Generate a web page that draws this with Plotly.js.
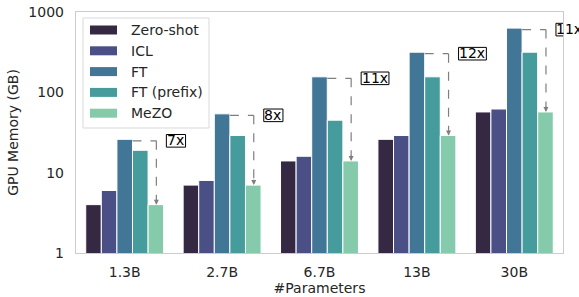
<!DOCTYPE html>
<html>
<head>
<meta charset="utf-8">
<script src="https://cdn.plot.ly/plotly-3.0.1.min.js"></script>
<style>html,body{margin:0;padding:0;background:#fff;}#chart{width:579px;height:297px;}</style>
</head>
<body>
<div id="chart"></div>
<script>
const categories = ["1.3B", "2.7B", "6.7B", "13B", "30B"];
const seriesNames = ["Zero-shot", "ICL", "FT", "FT (prefix)", "MeZO"];
const zeroShot = [4, 7, 14, 26, 57];
const icl = [6, 8, 16, 29, 62];
const ft = [26, 54, 156, 316, 630];
const ftPrefix = [19, 29, 45, 156, 316];
const mezo = [4, 7, 14, 29, 57];
const ratioLabels = ["7x", "8x", "11x", "12x", "11x"];
const yTickVals = [1, 10, 100, 1000];
const yTickText = ["1", "10", "100", "1000"];
const colors = ["#352843", "#4a5086", "#427696", "#469c9c", "#85cbab"];

const seriesValues = [zeroShot, icl, ft, ftPrefix, mezo];
const FONT = "DejaVu Sans, sans-serif";
const TXT = "#262626";

const traces = seriesValues.map((vals, k) => ({
  type: "bar",
  name: seriesNames[k],
  x: categories,
  y: vals,
  marker: { color: colors[k], line: { color: "#ffffff", width: 1 } },
  showlegend: false,
  hoverinfo: "skip"
}));

const W = 487, H = 241, L = 76, T = 12;
const decadePx = H / 3;
const pxToFactor = p => Math.pow(10, p / decadePx);

const shapes = [];
const annotations = [];
const nGroup = seriesNames.length;
const barW = 0.8 / nGroup;
const ftOff = (2 - (nGroup - 1) / 2) * barW;     // FT bar centre offset
const mezoOff = (4 - (nGroup - 1) / 2) * barW;   // MeZO bar centre offset
const gray = "#7f7f7f";

categories.forEach((c, i) => {
  const xr = i + ftOff + barW / 2;
  const xv = i + mezoOff + 0.005;
  const yl = ft[i] / pxToFactor(1.5);
  shapes.push({ type: "line", xref: "x", yref: "y", x0: xr, x1: xv, y0: yl, y1: yl,
    line: { color: gray, width: 1.2, dash: "dash" } });
  shapes.push({ type: "line", xref: "x", yref: "y", x0: xv, x1: xv, y0: yl, y1: mezo[i] * 1.02,
    line: { color: gray, width: 1.2, dash: "dash" } });
  annotations.push({ xref: "x", yref: "y", x: xv, y: Math.log10(mezo[i]), ax: 0, ay: -7,
    text: "", showarrow: true, arrowhead: 2, arrowsize: 1, arrowwidth: 1, arrowcolor: gray, standoff: 0 });
  const w = ratioLabels[i].length * 8.6 + 2;
  shapes.push({ type: "rect", xref: "x", yref: "y", xsizemode: "pixel",
    xanchor: xv, x0: 10, x1: 10 + w,
    y0: yl / pxToFactor(6.3), y1: yl * pxToFactor(6.3),
    line: { color: "#000000", width: 1 }, fillcolor: "#ffffff", layer: "above" });
  annotations.push({ xref: "x", yref: "y", x: xv, y: Math.log10(yl), xanchor: "left", yanchor: "middle",
    xshift: 8.5, yshift: 0.5, showarrow: false, text: ratioLabels[i],
    font: { family: FONT, size: 14, color: "#000000" } });
});

// legend drawn in paper coordinates
const px = v => (v - L) / W;
const py = v => (T + H - v) / H;
shapes.push({ type: "rect", xref: "paper", yref: "paper", x0: px(83), x1: px(209), y0: py(128), y1: py(18),
  line: { color: "#d9d9d9", width: 1 }, fillcolor: "rgba(255,255,255,0.8)", layer: "above" });
seriesNames.forEach((n, k) => {
  const cy = 30 + k * 20.8;
  shapes.push({ type: "rect", xref: "paper", yref: "paper", x0: px(90), x1: px(117), y0: py(cy + 4.5), y1: py(cy - 4.5),
    line: { width: 0 }, fillcolor: colors[k], layer: "above" });
  annotations.push({ xref: "paper", yref: "paper", x: px(129), y: py(cy), xanchor: "left", yanchor: "middle",
    showarrow: false, text: n, font: { family: FONT, size: 14, color: TXT } });
});

const layout = {
  width: 579, height: 297,
  margin: { l: 76, r: 16, t: 12, b: 44 },
  paper_bgcolor: "#ffffff", plot_bgcolor: "#ffffff",
  font: { family: FONT, size: 14, color: TXT },
  barmode: "group", bargap: 0.2, bargroupgap: 0,
  showlegend: false,
  xaxis: {
    type: "category", range: [-0.5, 4.5],
    showline: true, mirror: true, linecolor: "#cccccc", linewidth: 1.2,
    showgrid: false, zeroline: false, ticks: "", ticklabelstandoff: 6,
    tickfont: { family: FONT, size: 14, color: TXT },
    title: { text: "#Parameters", font: { family: FONT, size: 14, color: TXT }, standoff: 4 }
  },
  yaxis: {
    type: "log", range: [0, 3],
    tickvals: yTickVals, ticktext: yTickText,
    showline: true, mirror: true, linecolor: "#cccccc", linewidth: 1.2,
    showgrid: false, zeroline: false, ticks: "", ticklabelstandoff: 8,
    tickfont: { family: FONT, size: 14, color: TXT },
    title: { text: "GPU Memory (GB)", font: { family: FONT, size: 14, color: TXT }, standoff: 6 }
  },
  shapes: shapes,
  annotations: annotations
};

Plotly.newPlot("chart", traces, layout, { staticPlot: true, displayModeBar: false });
</script>
</body>
</html>
